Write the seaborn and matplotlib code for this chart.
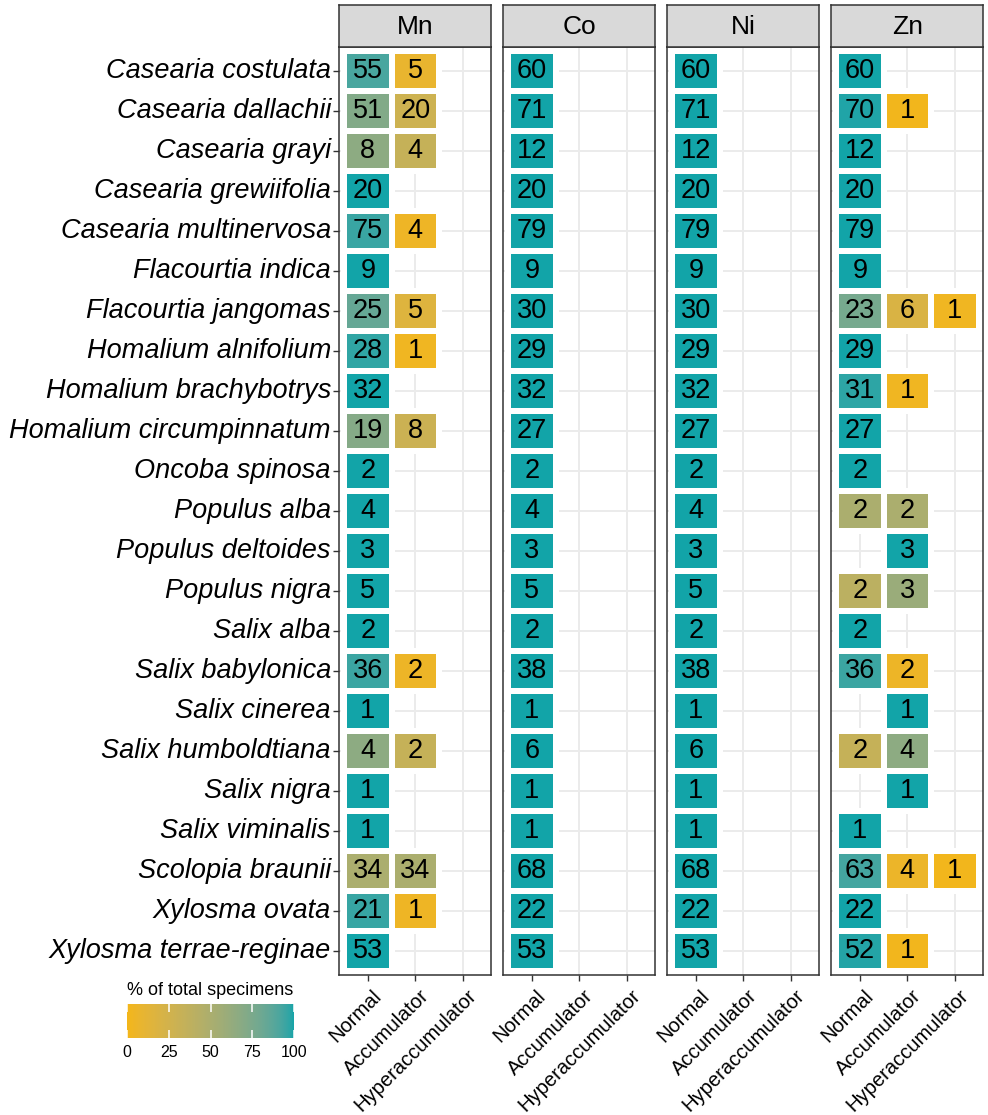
import numpy as np
import pandas as pd
import matplotlib
matplotlib.use("Agg")
import matplotlib.pyplot as plt
from matplotlib.colors import ListedColormap, Normalize
from matplotlib.cm import ScalarMappable
from matplotlib.transforms import ScaledTranslation
import seaborn as sns

# ── Data ──────────────────────────────────────────────────────────────────────
SPECIES = [
    "Casearia costulata", "Casearia dallachii", "Casearia grayi",
    "Casearia grewiifolia", "Casearia multinervosa", "Flacourtia indica",
    "Flacourtia jangomas", "Homalium alnifolium", "Homalium brachybotrys",
    "Homalium circumpinnatum", "Oncoba spinosa", "Populus alba",
    "Populus deltoides", "Populus nigra", "Salix alba", "Salix babylonica",
    "Salix cinerea", "Salix humboldtiana", "Salix nigra", "Salix viminalis",
    "Scolopia braunii", "Xylosma ovata", "Xylosma terrae-reginae",
]
CLASSES = ["Normal", "Accumulator", "Hyperaccumulator"]
ELEMENTS = ["Mn", "Co", "Ni", "Zn"]

N = np.nan
MN_NORMAL = [55, 51, 8, 20, 75, 9, 25, 28, 32, 19, 2, 4, 3, 5, 2, 36, 1, 4, 1, 1, 34, 21, 53]
MN_ACCUM  = [5, 20, 4, N, 4, N, 5, 1, N, 8, N, N, N, N, N, 2, N, 2, N, N, 34, 1, N]
MN_HYPER  = [N, N, N, N, N, N, N, N, N, N, N, N, N, N, N, N, N, N, N, N, N, N, N]

CO_NORMAL = [60, 71, 12, 20, 79, 9, 30, 29, 32, 27, 2, 4, 3, 5, 2, 38, 1, 6, 1, 1, 68, 22, 53]
CO_ACCUM  = [N, N, N, N, N, N, N, N, N, N, N, N, N, N, N, N, N, N, N, N, N, N, N]
CO_HYPER  = [N, N, N, N, N, N, N, N, N, N, N, N, N, N, N, N, N, N, N, N, N, N, N]

NI_NORMAL = [60, 71, 12, 20, 79, 9, 30, 29, 32, 27, 2, 4, 3, 5, 2, 38, 1, 6, 1, 1, 68, 22, 53]
NI_ACCUM  = [N, N, N, N, N, N, N, N, N, N, N, N, N, N, N, N, N, N, N, N, N, N, N]
NI_HYPER  = [N, N, N, N, N, N, N, N, N, N, N, N, N, N, N, N, N, N, N, N, N, N, N]

ZN_NORMAL = [60, 70, 12, 20, 79, 9, 23, 29, 31, 27, 2, 2, N, 2, 2, 36, N, 2, N, 1, 63, 22, 52]
ZN_ACCUM  = [N, 1, N, N, N, N, 6, N, 1, N, N, 2, 3, 3, N, 2, 1, 4, 1, N, 4, N, 1]
ZN_HYPER  = [N, N, N, N, N, N, 1, N, N, N, N, N, N, N, N, N, N, N, N, N, 1, N, N]

COUNTS = {
    "Mn": (MN_NORMAL, MN_ACCUM, MN_HYPER),
    "Co": (CO_NORMAL, CO_ACCUM, CO_HYPER),
    "Ni": (NI_NORMAL, NI_ACCUM, NI_HYPER),
    "Zn": (ZN_NORMAL, ZN_ACCUM, ZN_HYPER),
}

LOW_COLOR = (244, 182, 24)
HIGH_COLOR = (18, 164, 168)

W, H = 988, 1115
FONT = ["Liberation Sans", "DejaVu Sans"]


# ── Lab-space gradient (like ggplot's scale_fill_gradient) ────────────────────
_M = np.array([[0.4124, 0.3576, 0.1805],
               [0.2126, 0.7152, 0.0722],
               [0.0193, 0.1192, 0.9505]])
_WHITE = np.array([0.95047, 1.0, 1.08883])


def _to_lab(rgb):
    c = np.asarray(rgb, float) / 255.0
    lin = np.where(c <= 0.04045, c / 12.92, ((c + 0.055) / 1.055) ** 2.4)
    xyz = _M @ lin / _WHITE
    f = np.where(xyz > 0.008856, np.cbrt(xyz), 7.787 * xyz + 16 / 116)
    return np.array([116 * f[1] - 16, 500 * (f[0] - f[1]), 200 * (f[1] - f[2])])


def _from_lab(lab):
    fy = (lab[0] + 16) / 116
    f = np.array([fy + lab[1] / 500, fy, fy - lab[2] / 200])
    xyz = np.where(f ** 3 > 0.008856, f ** 3, (f - 16 / 116) / 7.787) * _WHITE
    lin = np.linalg.solve(_M, xyz)
    c = np.where(lin <= 0.0031308, 12.92 * lin, 1.055 * np.clip(lin, 0, None) ** (1 / 2.4) - 0.055)
    return np.clip(c, 0, 1)


def lab_cmap(low, high, n=256):
    a, b = _to_lab(low), _to_lab(high)
    return ListedColormap([_from_lab(a + (b - a) * t) for t in np.linspace(0, 1, n)])


def px_axes(fig, x0, y0, x1, y1):
    return fig.add_axes([x0 / W, 1 - y1 / H, (x1 - x0) / W, (y1 - y0) / H])


plt.rcParams["font.family"] = FONT
cmap = lab_cmap(LOW_COLOR, HIGH_COLOR)

fig = plt.figure(figsize=(W / 100, H / 100), dpi=100)

PANEL_X = [339.3, 503.3, 667.3, 831.3]
PANEL_W = 152.0
PANEL_TOP, PANEL_BOTTOM = 46.7, 975.0
STRIP_TOP = 4.7
DARK = "#333333"

for i, elem in enumerate(ELEMENTS):
    counts = pd.DataFrame(np.column_stack(COUNTS[elem]), index=SPECIES, columns=CLASSES)
    pct = counts.div(counts.sum(axis=1), axis=0) * 100

    x0 = PANEL_X[i]
    ax = px_axes(fig, x0, PANEL_TOP, x0 + PANEL_W, PANEL_BOTTOM)
    sns.heatmap(pct, ax=ax, cmap=cmap, vmin=0, vmax=100, cbar=False,
                annot=counts.values, fmt=".0f",
                annot_kws={"fontsize": 19.5, "color": "black"},
                linewidths=2.9, linecolor="white")

    # no white borders round empty cells, so the grid shows through
    mesh = ax.collections[0]
    empty = pct.isna().values.ravel()
    ec = np.tile([1.0, 1.0, 1.0, 1.0], (empty.size, 1))
    ec[empty, 3] = 0.0
    mesh.set_edgecolor(ec)

    ax.set_xlim(-0.1, 3.1)
    ax.set_ylim(len(SPECIES) - 0.5 + 0.6, -0.1)
    ax.set_axisbelow(True)
    ax.grid(True, color="#EBEBEB", linewidth=1.4)
    ax.set_facecolor("white")
    for s in ax.spines.values():
        s.set_visible(True)
        s.set_color(DARK)
        s.set_linewidth(1.1)
    ax.set_xlabel("")
    ax.set_ylabel("")

    ax.set_xticklabels(CLASSES, rotation=45, ha="right", va="top",
                       rotation_mode="anchor", fontsize=14.5, color="black")
    ax.tick_params(axis="x", length=4.5, width=1, color=DARK, pad=3.5)
    shift = ScaledTranslation(4 / 100, 0, fig.dpi_scale_trans)
    for lbl in ax.get_xticklabels():
        lbl.set_transform(lbl.get_transform() + shift)
    if i == 0:
        ax.set_yticklabels(SPECIES, rotation=0, fontsize=19.5,
                           fontstyle="italic", color="black", va="center")
        ax.tick_params(axis="y", length=4.5, width=1, color=DARK, pad=1.5)
    else:
        ax.set_yticklabels([])
        ax.tick_params(axis="y", length=0)

    # facet strip
    sax = px_axes(fig, x0, STRIP_TOP, x0 + PANEL_W, PANEL_TOP)
    sax.set_facecolor("#D9D9D9")
    sax.set_xticks([])
    sax.set_yticks([])
    for s in sax.spines.values():
        s.set_color(DARK)
        s.set_linewidth(1.1)
    sax.text(0.5, 0.48, elem, ha="center", va="center", fontsize=19,
             color="black", transform=sax.transAxes)

# ── Colour legend ─────────────────────────────────────────────────────────────
cax = px_axes(fig, 126.7, 1004.3, 294.3, 1037.7)
cb = fig.colorbar(ScalarMappable(norm=Normalize(0, 100), cmap=cmap), cax=cax,
                  orientation="horizontal", ticks=[0, 25, 50, 75, 100])
cb.outline.set_visible(False)
cax.tick_params(axis="x", direction="in", top=True, bottom=True, length=6,
                width=1.1, color="white", labelcolor="black", labelsize=11.5, pad=5.5)
cax.set_title("% of total specimens", fontsize=13, pad=7)

fig.savefig("out.png", dpi=100)
